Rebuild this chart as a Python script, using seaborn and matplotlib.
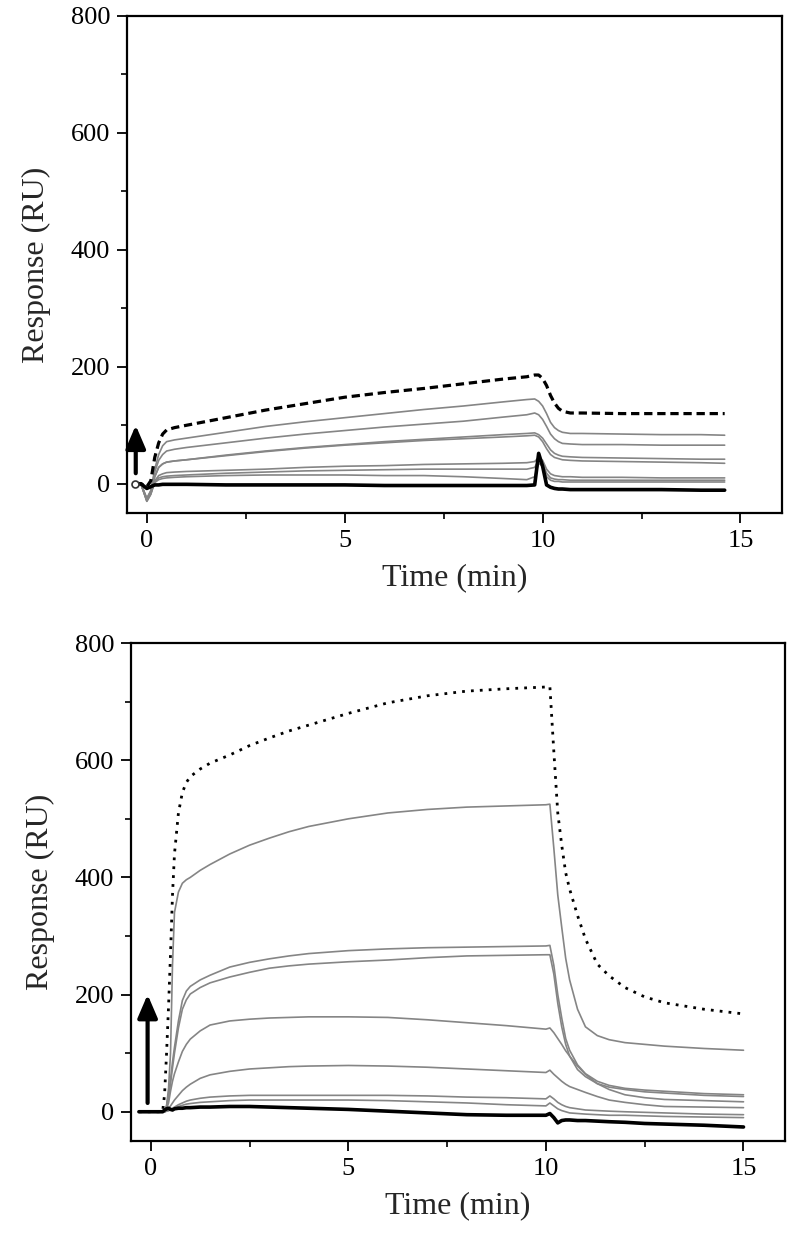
import matplotlib
matplotlib.use("Agg")
import matplotlib.pyplot as plt
import seaborn as sns
import pandas as pd
from matplotlib.ticker import MultipleLocator

# ---------------- data ----------------
# Top panel
t_top = [-0.3, -0.15, 0.0, 0.1, 0.2, 0.3, 0.4, 0.5, 0.7, 1.0, 2.0, 3.0, 4.0, 5.0, 6.0,
         7.0, 8.0, 9.0, 9.6, 9.8, 9.9, 10.0, 10.1, 10.2, 10.3, 10.4, 10.5, 10.7, 11.0,
         12.0, 13.0, 14.0, 14.6]
top_dashed = [0, 0, -5, 5, 45, 70, 85, 92, 96, 100, 113, 126, 137, 148, 156, 163, 171, 179,
              183, 186, 186, 180, 168, 151, 138, 129, 124, 121, 121, 120, 120, 120, 120]
top_gray1 = [0, 0, -25, -12, 25, 50, 65, 72, 75, 78, 88, 98, 106, 113, 120, 127, 133, 140,
             144, 145, 141, 133, 120, 105, 96, 91, 88, 86, 86, 85, 84, 84, 83]
top_gray2 = [0, 0, -25, -12, 20, 40, 50, 56, 59, 62, 70, 78, 85, 91, 97, 102, 107, 114,
             118, 121, 118, 110, 98, 85, 77, 72, 69, 68, 67, 67, 66, 66, 66]
top_gray3 = [0, 0, -28, -15, 12, 28, 34, 37, 39, 41, 49, 56, 62, 67, 72, 76, 80, 84,
             86, 87, 84, 78, 68, 58, 52, 49, 47, 46, 45, 44, 43, 42, 42]
top_gray4 = [0, 0, -28, -15, 12, 28, 34, 37, 39, 41, 48, 55, 61, 66, 70, 74, 77, 80,
             82, 83, 80, 72, 60, 50, 45, 43, 41, 40, 39, 38, 37, 36, 35]
top_gray5 = [0, 0, -30, -18, 5, 14, 17, 19, 20, 21, 23, 25, 28, 30, 31, 33, 34, 35,
             36, 38, 45, 40, 25, 17, 14, 13, 12, 12, 11, 11, 10, 10, 10]
top_gray6 = [0, 0, -30, -18, 3, 10, 12, 13, 14, 15, 18, 20, 22, 23, 24, 25, 25, 25,
             25, 28, 40, 35, 18, 10, 8, 7, 7, 6, 6, 6, 6, 6, 6]
top_gray7 = [0, 0, -28, -16, 2, 7, 9, 10, 11, 12, 14, 15, 15, 15, 14, 14, 12, 9,
             7, 12, 35, 30, 12, 6, 4, 4, 3, 3, 3, 3, 3, 3, 3]
top_black = [0, 0, -8, -5, -2, -2, -1, -1, -1, -1, -2, -2, -2, -2, -3, -3, -3, -3,
             -3, -2, 52, 30, -2, -6, -8, -9, -9, -10, -10, -10, -10, -11, -11]

# Bottom panel
t_bot = [-0.3, 0.0, 0.3, 0.35, 0.4, 0.45, 0.5, 0.55, 0.6, 0.7, 0.8, 0.9, 1.0, 1.25, 1.5,
         2.0, 2.5, 3.0, 3.5, 4.0, 5.0, 6.0, 7.0, 8.0, 9.0, 10.0, 10.1, 10.2, 10.3, 10.4,
         10.5, 10.6, 10.8, 11.0, 11.3, 11.6, 12.0, 12.5, 13.0, 14.0, 15.0]
bot_dotted = [0, 0, 0, 30, 100, 180, 270, 370, 440, 510, 545, 562, 572, 585, 595,
              609, 625, 638, 650, 660, 680, 698, 710, 718, 722, 725, 726, 615, 510, 455,
              408, 380, 335, 295, 252, 232, 212, 196, 186, 175, 167]
bot_gray_a = [0, 0, 0, 0, 10, 40, 100, 250, 340, 375, 390, 396, 400, 412, 422,
              440, 455, 467, 478, 487, 500, 510, 516, 520, 522, 524, 525, 450, 370, 315,
              262, 225, 175, 145, 130, 123, 118, 115, 112, 108, 105]
bot_gray_b = [0, 0, 0, 1, 10, 30, 55, 85, 110, 155, 190, 206, 214, 225, 233,
              247, 255, 261, 266, 270, 275, 278, 280, 281, 282, 283, 284, 250, 200, 160,
              125, 105, 80, 65, 52, 45, 40, 37, 35, 31, 29]
bot_gray_c = [0, 0, 0, 0, 8, 25, 48, 75, 100, 143, 175, 191, 201, 212, 220,
              230, 238, 245, 249, 252, 256, 259, 263, 266, 267, 268, 268, 235, 185, 145,
              115, 95, 72, 60, 48, 42, 38, 34, 32, 28, 26]
bot_gray_d = [0, 0, 0, 0, 5, 15, 35, 52, 65, 85, 103, 115, 124, 138, 148,
              155, 158, 160, 161, 162, 162, 161, 157, 152, 147, 141, 143, 135, 125, 115,
              104, 95, 78, 64, 48, 38, 29, 24, 21, 19, 17]
bot_gray_e = [0, 0, 0, 0, 2, 5, 10, 15, 20, 28, 36, 42, 47, 57, 63,
              69, 73, 75, 77, 78, 79, 78, 76, 73, 70, 67, 71, 64, 58, 52,
              47, 43, 38, 33, 26, 20, 16, 12, 9, 8, 7]
bot_gray_f = [0, 0, 0, 0, 1, 2, 4, 6, 8, 12, 15, 18, 20, 23, 25,
              27, 28, 28, 28, 28, 28, 28, 27, 25, 24, 22, 27, 22, 16, 12,
              9, 7, 5, 3, 2, 1, 0, -1, -2, -4, -5]
bot_gray_g = [0, 0, 0, 0, 1, 2, 3, 4, 6, 9, 11, 13, 14, 16, 17,
              19, 20, 20, 20, 20, 20, 19, 17, 15, 12, 10, 15, 10, 5, 2,
              0, -2, -3, -4, -5, -6, -6, -7, -8, -9, -10]
bot_black = [0, 0, 0, 3, 5, 6, 4, 3, 5, 6, 6, 7, 7, 8, 8,
             9, 9, 8, 7, 6, 4, 1, -2, -5, -6, -6, -3, -10, -19, -15,
             -14, -14, -15, -15, -16, -17, -18, -20, -21, -23, -26]

# injection arrows (time, start, end)
arrow_top = (-0.28, 18, 100)
arrow_bot = (-0.08, 15, 200)

x_ticks = [0, 5, 10, 15]
y_ticks = [0, 200, 400, 600, 800]

# ---------------- styling ----------------
sns.set_theme(style="ticks")
plt.rcParams['font.family'] = ['Liberation Serif', 'DejaVu Serif']
plt.rcParams['axes.edgecolor'] = 'black'
plt.rcParams['xtick.color'] = 'black'
plt.rcParams['ytick.color'] = 'black'

GRAY = '#858585'

fig = plt.figure(figsize=(7.93, 12.4), dpi=100)
ax1 = fig.add_axes([0.1602, 0.5863, 0.826, 0.4008])
ax2 = fig.add_axes([0.1652, 0.0798, 0.8247, 0.4016])


def draw(ax, t, y, **kw):
    df = pd.DataFrame({"t": t, "r": y})
    sns.lineplot(data=df, x="t", y="r", ax=ax, sort=False, estimator=None,
                 legend=False, **kw)


# top panel
for g in [top_gray1, top_gray2, top_gray3, top_gray4, top_gray5, top_gray6, top_gray7]:
    draw(ax1, t_top, g, color=GRAY, lw=1.2)
draw(ax1, t_top, top_black, color='black', lw=2.6)
draw(ax1, t_top, top_dashed, color='black', lw=2.3, linestyle=(0, (2.6, 1.5)))
ax1.plot([t_top[0]], [top_black[0]], marker='o', ms=5, mfc='white', mec='#333333',
         mew=1.2, ls='none')

# bottom panel
for g in [bot_gray_a, bot_gray_b, bot_gray_c, bot_gray_d, bot_gray_e, bot_gray_f, bot_gray_g]:
    draw(ax2, t_bot, g, color=GRAY, lw=1.2)
draw(ax2, t_bot, bot_black, color='black', lw=2.6)
draw(ax2, t_bot, bot_dotted, color='black', lw=2.0, linestyle=(0, (1, 2.2)))

for ax, (ta, y0, y1) in [(ax1, arrow_top), (ax2, arrow_bot)]:
    ax.annotate("", xy=(ta, y1), xytext=(ta, y0), xycoords='data',
                arrowprops=dict(arrowstyle="-|>,head_length=0.7,head_width=0.3",
                                color='black', lw=3, mutation_scale=20,
                                shrinkA=0, shrinkB=0))

for ax in (ax1, ax2):
    ax.set_xlim(-0.5, 16.05)
    ax.set_ylim(-50, 800)
    ax.set_xticks(x_ticks)
    ax.set_yticks(y_ticks)
    ax.xaxis.set_minor_locator(MultipleLocator(2.5))
    ax.yaxis.set_minor_locator(MultipleLocator(100))
    for s in ax.spines.values():
        s.set_visible(True)
        s.set_linewidth(1.6)
        s.set_color('black')
    ax.tick_params(which='major', direction='out', length=7, width=1.3,
                   labelsize=19, pad=5, top=False, right=False)
    ax.tick_params(which='minor', direction='out', length=4, width=1.2,
                   top=False, right=False)
    ax.set_xlabel("Time (min)", fontsize=23, labelpad=8)
    ax.set_ylabel("Response (RU)", fontsize=23, labelpad=14)
    ax.grid(False)

fig.savefig("out.png", dpi=100)
